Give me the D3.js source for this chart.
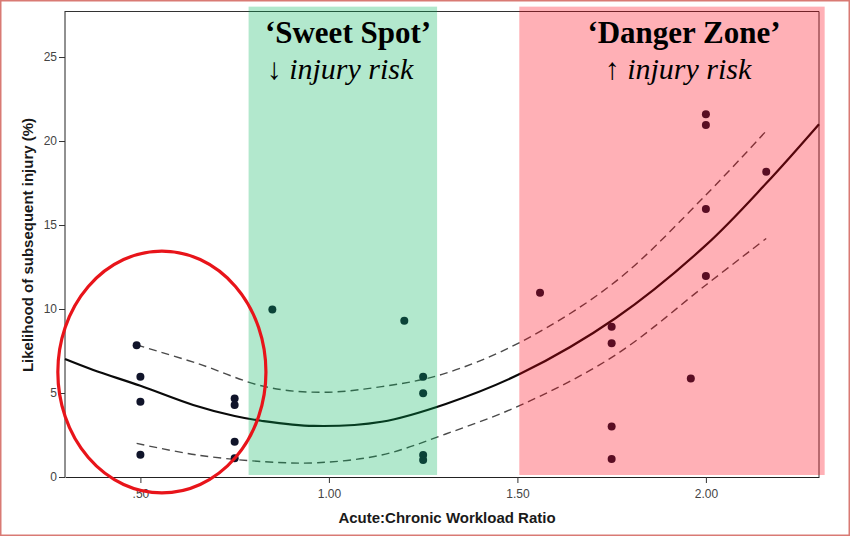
<!DOCTYPE html>
<html>
<head>
<meta charset="utf-8">
<script src="https://cdn.jsdelivr.net/npm/d3@7"></script>
<style>
  body { margin: 0; background: #fff; }
  svg { display: block; }
</style>
</head>
<body>
<div id="chart"></div>
<script>
// data
const pointX = [0.49, 0.50, 0.50, 0.50, 0.75, 0.75, 0.75, 0.75, 0.85, 1.20, 1.25, 1.25, 1.25, 1.25,
                1.56, 1.75, 1.75, 1.75, 1.75, 1.96, 2.00, 2.00, 2.00, 2.00, 2.16];
const pointY = [7.85, 5.97, 4.48, 1.33, 4.68, 4.29, 2.10, 1.11, 9.97, 9.30, 5.97, 4.98, 1.31, 1.01,
                10.97, 8.95, 7.96, 3.0, 1.07, 5.87, 21.6, 20.95, 15.95, 11.96, 18.17];

// fitted quadratic curve
const fitX = [0.30, 0.375, 0.50, 0.64, 0.75, 0.82, 0.96, 1.14, 1.31, 1.51, 1.76, 2.00, 2.16, 2.30];
const fitY = [7.02, 6.37, 5.43, 4.29, 3.63, 3.35, 3.04, 3.29, 4.35, 6.17, 9.45, 13.8, 17.48, 21.0];

// confidence interval (dashed)
const upperX = [0.49, 0.65, 0.83, 0.98, 1.14, 1.30, 1.51, 1.76, 2.00, 2.16];
const upperY = [7.86, 6.77, 5.38, 5.04, 5.38, 6.11, 8.05, 11.63, 16.79, 20.6];
const lowerX = [0.49, 0.65, 0.83, 0.97, 1.14, 1.31, 1.51, 1.76, 2.00, 2.16];
const lowerY = [2.0, 1.31, 0.91, 0.85, 1.31, 2.56, 4.29, 7.26, 11.43, 14.2];

// shaded zones
const zoneNames = ["Sweet Spot", "Danger Zone"];
const zoneX0 = [0.787, 1.505];
const zoneX1 = [1.287, 2.315];

const xTicks = [0.5, 1.0, 1.5, 2.0];
const xTickLabels = [".50", "1.00", "1.50", "2.00"];
const yTicks = [0, 5, 10, 15, 20, 25];

const W = 850, H = 536;
const margin = {top: 11, right: 31, bottom: 59, left: 65};

const svg = d3.select("#chart").append("svg")
    .attr("width", W)
    .attr("height", H);

// outer border
svg.append("rect")
    .attr("x", 0.75).attr("y", 0.75)
    .attr("width", W - 1.5).attr("height", H - 1.5)
    .attr("fill", "none")
    .attr("stroke", "#d97a74")
    .attr("stroke-width", 1.5);

const x = d3.scaleLinear().domain([0.3, 2.3]).range([margin.left, W - margin.right]);
const y = d3.scaleLinear().domain([0, 27.74]).range([H - margin.bottom, margin.top]);

// axes
const xAxis = d3.axisBottom(x)
    .tickValues(xTicks)
    .tickFormat((d, i) => xTickLabels[i])
    .tickSize(6)
    .tickSizeOuter(0)
    .tickPadding(6);

const yAxis = d3.axisLeft(y)
    .tickValues(yTicks)
    .tickSize(6)
    .tickSizeOuter(0)
    .tickPadding(2);

const gx = svg.append("g")
    .attr("transform", `translate(0,${y(0)})`)
    .call(xAxis);
const gy = svg.append("g")
    .attr("transform", `translate(${x(0.3)},0)`)
    .call(yAxis);

// y axis domain should reach the top of the frame
gy.select(".domain").attr("d", `M0,${y(0)}V${margin.top}`);

[gx, gy].forEach(g => {
    g.select(".domain").attr("stroke", "#222");
    g.selectAll(".tick line").attr("stroke", "#333");
    g.selectAll(".tick text")
        .attr("fill", "#444")
        .style("font-family", "'Liberation Sans', Arial, sans-serif")
        .style("font-size", "12px");
});

// frame top and right
svg.append("path")
    .attr("d", `M${x(0.3)},${margin.top + 0.5}H${x(2.3)}V${y(0)}`)
    .attr("fill", "none")
    .attr("stroke", "#333")
    .attr("stroke-width", 1);

// axis titles
svg.append("text")
    .attr("x", (x(0.3) + x(2.3)) / 2 + 5)
    .attr("y", 523)
    .attr("text-anchor", "middle")
    .style("font-family", "'Liberation Sans', Arial, sans-serif")
    .style("font-size", "15px")
    .style("font-weight", "bold")
    .attr("fill", "#1a1a1a")
    .text("Acute:Chronic Workload Ratio");

svg.append("text")
    .attr("transform", `translate(33,245) rotate(-90)`)
    .attr("text-anchor", "middle")
    .style("font-family", "'Liberation Sans', Arial, sans-serif")
    .style("font-size", "15px")
    .style("font-weight", "bold")
    .attr("fill", "#1a1a1a")
    .text("Likelihood of subsequent injury (%)");

// curves
const line = d3.line()
    .x(d => x(d[0]))
    .y(d => y(d[1]))
    .curve(d3.curveCatmullRom);

svg.append("path")
    .datum(upperX.map((v, i) => [v, upperY[i]]))
    .attr("d", line)
    .attr("fill", "none")
    .attr("stroke", "#4a4a4a")
    .attr("stroke-width", 1.4)
    .attr("stroke-dasharray", "8,5");

svg.append("path")
    .datum(lowerX.map((v, i) => [v, lowerY[i]]))
    .attr("d", line)
    .attr("fill", "none")
    .attr("stroke", "#4a4a4a")
    .attr("stroke-width", 1.4)
    .attr("stroke-dasharray", "8,5");

svg.append("path")
    .datum(fitX.map((v, i) => [v, fitY[i]]))
    .attr("d", line)
    .attr("fill", "none")
    .attr("stroke", "#0a0a0a")
    .attr("stroke-width", 2.2);

// points
svg.selectAll("circle.pt")
    .data(pointX.map((v, i) => [v, pointY[i]]))
    .enter()
    .append("circle")
    .attr("class", "pt")
    .attr("cx", d => x(d[0]))
    .attr("cy", d => y(d[1]))
    .attr("r", 4)
    .attr("fill", "#10142a");

// shaded zones drawn over the chart
const zoneFill = ["rgb(0,180,90)", "rgb(255,0,20)"];
const zoneOpacity = [0.3, 0.31];
svg.selectAll("rect.zone")
    .data(zoneNames)
    .enter()
    .append("rect")
    .attr("class", "zone")
    .attr("x", (d, i) => x(zoneX0[i]))
    .attr("width", (d, i) => x(zoneX1[i]) - x(zoneX0[i]))
    .attr("y", y(28))
    .attr("height", y(0.12) - y(28))
    .attr("fill", (d, i) => zoneFill[i])
    .attr("fill-opacity", (d, i) => zoneOpacity[i]);

// zone labels
const labelPos = [{x: 348, x2: 340}, {x: 684, x2: 678}];
const arrows = ["\u2193", "\u2191"];
zoneNames.forEach((name, i) => {
    svg.append("text")
        .attr("x", labelPos[i].x)
        .attr("y", 43)
        .attr("text-anchor", "middle")
        .style("font-family", "'Liberation Serif', 'Times New Roman', serif")
        .style("font-size", "31px")
        .style("font-weight", "bold")
        .attr("fill", "#000")
        .text("\u2018" + name + "\u2019");
    svg.append("text")
        .attr("x", labelPos[i].x2)
        .attr("y", 79)
        .attr("text-anchor", "middle")
        .style("font-family", "'Liberation Serif', 'Times New Roman', serif")
        .style("font-size", "30px")
        .style("font-style", "italic")
        .attr("fill", "#000")
        .text(arrows[i] + " injury risk");
});

// red ellipse round the low-ratio group
svg.append("ellipse")
    .attr("cx", x(0.557))
    .attr("cy", y(6.25))
    .attr("rx", x(0.557 + 0.276) - x(0.557))
    .attr("ry", y(0) - y(7.2))
    .attr("fill", "none")
    .attr("stroke", "#e8141a")
    .attr("stroke-width", 3.2);
</script>
</body>
</html>
